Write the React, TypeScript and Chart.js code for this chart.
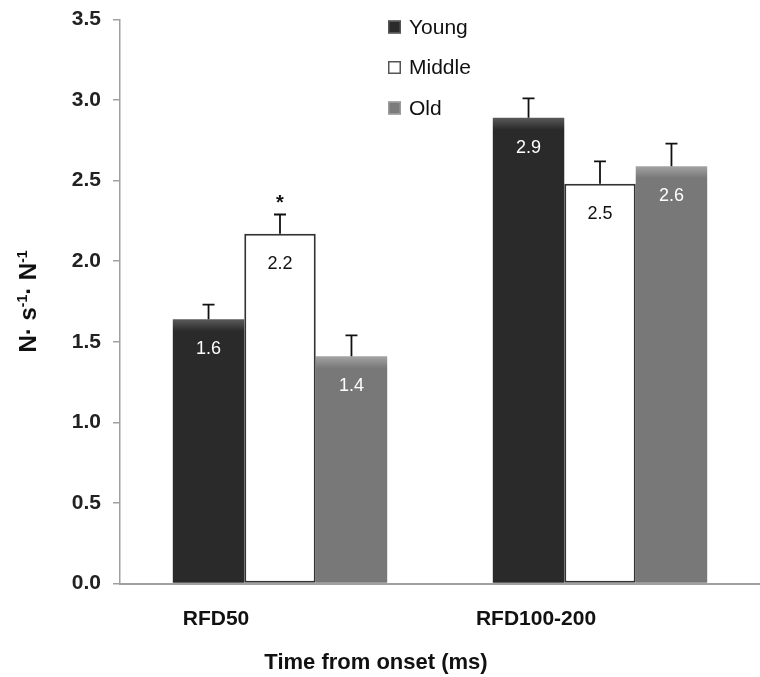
import React, { useEffect, useRef } from "react";
import { Chart, registerables } from "chart.js";

Chart.register(...registerables);

// ---- data ----
const categories = ["RFD50", "RFD100-200"];
const seriesNames = ["Young", "Middle", "Old"];
const youngValues = [1.64, 2.89];
const middleValues = [2.17, 2.48];
const oldValues = [1.41, 2.59];
const youngErrors = [0.09, 0.12];
const middleErrors = [0.12, 0.14];
const oldErrors = [0.13, 0.14];
const youngMarks = ["", ""];
const middleMarks = ["*", ""];
const oldMarks = ["", ""];
const yMin = 0;
const yMax = 3.5;
const yStep = 0.5;
const yTitleParts = [
  { t: "N· s", sup: false },
  { t: "-1", sup: true },
  { t: "· N", sup: false },
  { t: "-1", sup: true },
];
const xTitle = "Time from onset (ms)";

const FONT = '"Liberation Sans", Arial, Helvetica, sans-serif';

function bevel(base: string, light: string) {
  return (ctx: any) => {
    const chart = ctx.chart;
    if (!chart.chartArea || ctx.type !== "data" || !chart.scales.y) return base;
    const y = chart.scales.y.getPixelForValue(ctx.raw);
    const g = chart.ctx.createLinearGradient(0, y, 0, y + 12);
    g.addColorStop(0, light);
    g.addColorStop(1, base);
    return g;
  };
}

const overlayPlugin = {
  id: "overlay",
  afterDatasetsDraw(chart: any) {
    const ctx = chart.ctx;
    const ys = chart.scales.y;
    chart.data.datasets.forEach((ds: any, di: number) => {
      const meta = chart.getDatasetMeta(di);
      meta.data.forEach((bar: any, i: number) => {
        const v = ds.data[i];
        const top = ys.getPixelForValue(v + ds.errors[i]);
        ctx.save();
        ctx.strokeStyle = "#111";
        ctx.lineWidth = 1.8;
        ctx.beginPath();
        ctx.moveTo(bar.x, bar.y);
        ctx.lineTo(bar.x, top);
        ctx.moveTo(bar.x - 6, top);
        ctx.lineTo(bar.x + 6, top);
        ctx.stroke();
        ctx.fillStyle = ds.labelColor;
        ctx.font = `18px ${FONT}`;
        ctx.textAlign = "center";
        ctx.textBaseline = "middle";
        ctx.fillText(v.toFixed(1), bar.x, bar.y + 30);
        if (ds.marks[i]) {
          ctx.font = `bold 20px ${FONT}`;
          ctx.fillStyle = "#111";
          ctx.textBaseline = "alphabetic";
          ctx.fillText(ds.marks[i], bar.x, top - 5);
        }
        ctx.restore();
      });
    });
  },
  afterDraw(chart: any) {
    const ctx = chart.ctx;
    const area = chart.chartArea;
    // legend
    ctx.save();
    chart.data.datasets.forEach((ds: any, di: number) => {
      const cy = 27 + di * 40.5;
      const bx = 388;
      ctx.fillStyle = ds.legendFill;
      ctx.fillRect(bx, cy - 6.5, 13, 13);
      ctx.strokeStyle = ds.legendStroke;
      ctx.lineWidth = 1.5;
      ctx.strokeRect(bx + 0.75, cy - 5.75, 11.5, 11.5);
      ctx.fillStyle = "#111";
      ctx.font = `21px ${FONT}`;
      ctx.textAlign = "left";
      ctx.textBaseline = "middle";
      ctx.fillText(ds.label, 409, cy + 1);
    });
    ctx.restore();

    // y title (rotated, with superscripts)
    ctx.save();
    const mainFont = `bold 24px ${FONT}`;
    const supFont = `bold 14px ${FONT}`;
    let total = 0;
    const widths = yTitleParts.map((p) => {
      ctx.font = p.sup ? supFont : mainFont;
      const w = ctx.measureText(p.t).width;
      total += w;
      return w;
    });
    const cy = (area.top + area.bottom) / 2;
    ctx.translate(36, cy);
    ctx.rotate(-Math.PI / 2);
    ctx.fillStyle = "#111";
    ctx.textAlign = "left";
    ctx.textBaseline = "alphabetic";
    let x = -total / 2;
    yTitleParts.forEach((p, i) => {
      ctx.font = p.sup ? supFont : mainFont;
      ctx.fillText(p.t, x, p.sup ? -9 : 0);
      x += widths[i];
    });
    ctx.restore();

    // x title
    ctx.save();
    ctx.fillStyle = "#111";
    ctx.font = `bold 22px ${FONT}`;
    ctx.textAlign = "center";
    ctx.textBaseline = "middle";
    const xs = chart.scales.x;
    const lo = xs.options.ticks.labelOffset || 0;
    ctx.fillText(xTitle, (area.left + area.right) / 2 + lo, 663);
    ctx.restore();
  },
};

export default function App() {
  const ref = useRef<HTMLCanvasElement | null>(null);
  useEffect(() => {
    if (!ref.current) return;
    const chart = new Chart(ref.current, {
      type: "bar",
      data: {
        labels: categories,
        datasets: [
          {
            label: seriesNames[0],
            data: youngValues,
            errors: youngErrors,
            marks: youngMarks,
            labelColor: "#ffffff",
            legendFill: "#2a2a2a",
            legendStroke: "#555",
            backgroundColor: bevel("#2a2a2a", "#5a5a5a"),
            borderColor: "#1a1a1a",
            borderWidth: 0,
          },
          {
            label: seriesNames[1],
            data: middleValues,
            errors: middleErrors,
            marks: middleMarks,
            labelColor: "#111111",
            legendFill: "#ffffff",
            legendStroke: "#555",
            backgroundColor: "#ffffff",
            borderColor: "#333333",
            borderWidth: 2,
            borderSkipped: false,
          },
          {
            label: seriesNames[2],
            data: oldValues,
            errors: oldErrors,
            marks: oldMarks,
            labelColor: "#ffffff",
            legendFill: "#7c7c7c",
            legendStroke: "#9a9a9a",
            backgroundColor: bevel("#787878", "#a4a4a4"),
            borderColor: "#666",
            borderWidth: 0,
          },
        ] as any,
      },
      options: {
        animation: false,
        responsive: true,
        maintainAspectRatio: false,
        layout: { padding: { top: 19.5, right: 0, bottom: 0, left: 0 } },
        datasets: {
          bar: { categoryPercentage: 0.67, barPercentage: 1.0 },
        },
        plugins: {
          legend: { display: false },
          tooltip: { enabled: false },
          title: { display: false },
        },
        scales: {
          x: {
            type: "category",
            grid: { display: false, drawTicks: false, tickLength: 0 },
            border: { display: true, color: "#a0a0a0", width: 2 },
            ticks: {
              color: "#111",
              font: { family: FONT, size: 21, weight: "bold" },
              padding: 23,
              labelOffset: -64,
              maxRotation: 0,
            },
            afterFit: (s: any) => {
              s.height = 93.5;
              s.paddingLeft = 0;
              s.paddingRight = 0;
            },
          },
          y: {
            min: yMin,
            max: yMax,
            grid: {
              display: true,
              drawOnChartArea: false,
              drawTicks: true,
              tickLength: 7,
              color: "#a0a0a0",
              lineWidth: 1.5,
            },
            border: { display: true, color: "#a0a0a0", width: 1.5 },
            ticks: {
              stepSize: yStep,
              color: "#222",
              font: { family: FONT, size: 21, weight: "bold" },
              padding: 12,
              callback: (v: any) => Number(v).toFixed(1),
            },
            afterFit: (s: any) => {
              s.width = 120;
              s.paddingTop = 0;
              s.paddingBottom = 0;
            },
          },
        },
      } as any,
      plugins: [overlayPlugin],
    });
    return () => chart.destroy();
  }, []);
  return (
    <div style={{ position: "absolute", left: 0, top: 0, width: 760, height: 677 }}>
      <canvas ref={ref} />
    </div>
  );
}
